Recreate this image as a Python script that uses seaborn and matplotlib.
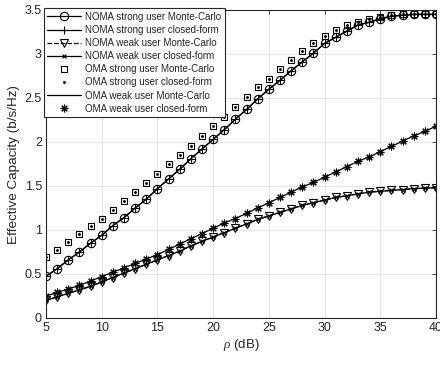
import numpy as np
import pandas as pd
import matplotlib
matplotlib.use("Agg")
import matplotlib.pyplot as plt
import seaborn as sns

rho_db = list(range(5, 41))

noma_strong = [0.475, 0.56, 0.66, 0.75, 0.85, 0.94, 1.05, 1.14, 1.25, 1.35,
               1.47, 1.58, 1.69, 1.81, 1.92, 2.03, 2.14, 2.26, 2.37, 2.49,
               2.60, 2.70, 2.81, 2.91, 3.01, 3.12, 3.19, 3.26, 3.33, 3.36,
               3.40, 3.43, 3.44, 3.45, 3.45, 3.45]
oma_strong = [0.69, 0.77, 0.86, 0.95, 1.04, 1.13, 1.23, 1.33, 1.43, 1.53,
              1.64, 1.75, 1.855, 1.96, 2.07, 2.18, 2.28, 2.40, 2.51, 2.62,
              2.72, 2.83, 2.93, 3.03, 3.13, 3.20, 3.27, 3.33, 3.36, 3.40,
              3.42, 3.44, 3.45, 3.45, 3.45, 3.45]
noma_weak = [0.20, 0.24, 0.28, 0.32, 0.36, 0.41, 0.46, 0.51, 0.56, 0.61,
             0.66, 0.71, 0.76, 0.82, 0.87, 0.92, 0.97, 1.02, 1.07, 1.12,
             1.16, 1.20, 1.24, 1.28, 1.31, 1.34, 1.37, 1.39, 1.41, 1.43,
             1.44, 1.45, 1.46, 1.47, 1.475, 1.48]
oma_weak = [0.25, 0.29, 0.33, 0.37, 0.42, 0.47, 0.52, 0.57, 0.62, 0.67,
            0.72, 0.78, 0.84, 0.90, 0.96, 1.02, 1.08, 1.13, 1.19, 1.25,
            1.31, 1.37, 1.43, 1.49, 1.54, 1.60, 1.66, 1.72, 1.78, 1.83,
            1.89, 1.95, 2.01, 2.07, 2.12, 2.18]

labels = ["NOMA strong user Monte-Carlo", "NOMA strong user closed-form",
          "NOMA weak user Monte-Carlo", "NOMA weak user closed-form",
          "OMA strong user Monte-Carlo", "OMA strong user closed-form",
          "OMA weak user Monte-Carlo", "OMA weak user closed-form"]
xticks = [5, 10, 15, 20, 25, 30, 35, 40]
yticks = [0, 0.5, 1, 1.5, 2, 2.5, 3, 3.5]
ytick_labels = ["0", "0.5", "1", "1.5", "2", "2.5", "3", "3.5"]

df = pd.DataFrame({"rho": rho_db, "noma_s": noma_strong, "oma_s": oma_strong,
                   "noma_w": noma_weak, "oma_w": oma_weak})

sns.set_style("white")
plt.rcParams["font.family"] = ["Liberation Sans", "DejaVu Sans"]
plt.rcParams["mathtext.fontset"] = "custom"
plt.rcParams["mathtext.it"] = "Liberation Serif:italic"

fig = plt.figure(figsize=(4.4, 3.65), dpi=100)
ax = fig.add_axes([46/440, 47/365, 390/440, 308/365])

k = "black"
lw = 0.9
styles = [
    ("noma_s", dict(marker="o", linestyle="-", markersize=6, markerfacecolor="none")),
    ("noma_s", dict(marker="+", linestyle="-", markersize=6)),
    ("noma_w", dict(marker="v", linestyle="--", markersize=5.5, markerfacecolor="none")),
    ("noma_w", dict(marker="x", linestyle="-", markersize=3.5)),
    ("oma_s", dict(marker="s", linestyle="none", markersize=4.5, markerfacecolor="none")),
    ("oma_s", dict(marker=".", linestyle="none", markersize=2.5)),
    ("oma_w", dict(marker=None, linestyle="-")),
    ("oma_w", dict(marker=(8, 2, 0), linestyle="none", markersize=5.5)),
]
for (col, st), lab in zip(styles, labels):
    sns.lineplot(data=df, x="rho", y=col, ax=ax, color=k, linewidth=lw,
                 markeredgecolor=k, markeredgewidth=0.8, label=lab, **st)

ax.set_xlim(5, 40)
ax.set_ylim(0, 3.5)
ax.set_xticks(xticks)
ax.set_yticks(yticks)
ax.set_yticklabels(ytick_labels)
ax.grid(True, color="#e6e6e6", linewidth=0.8)
ax.set_axisbelow(True)
for s in ax.spines.values():
    s.set_visible(True)
    s.set_color("#262626")
    s.set_linewidth(0.8)
ax.tick_params(direction="in", length=3, width=0.6, colors="#262626",
               labelsize=9, top=True, right=True, labelcolor="#262626", pad=3)
ax.set_xlabel(r"$\it{\rho}$ (dB)", fontsize=9.5, color="#262626", labelpad=2)
ax.set_ylabel("Effective Capacity (b/s/Hz)", fontsize=9.7, color="#262626", labelpad=3)

leg = ax.legend(loc="upper left", bbox_to_anchor=(-0.005, 1.005), borderaxespad=0,
                fontsize=7, frameon=True, fancybox=False, edgecolor="#262626",
                framealpha=1, handlelength=3.4, handletextpad=0.5,
                labelspacing=0.32, borderpad=0.35)
leg.get_frame().set_linewidth(0.8)

fig.savefig("out.png", dpi=100)
